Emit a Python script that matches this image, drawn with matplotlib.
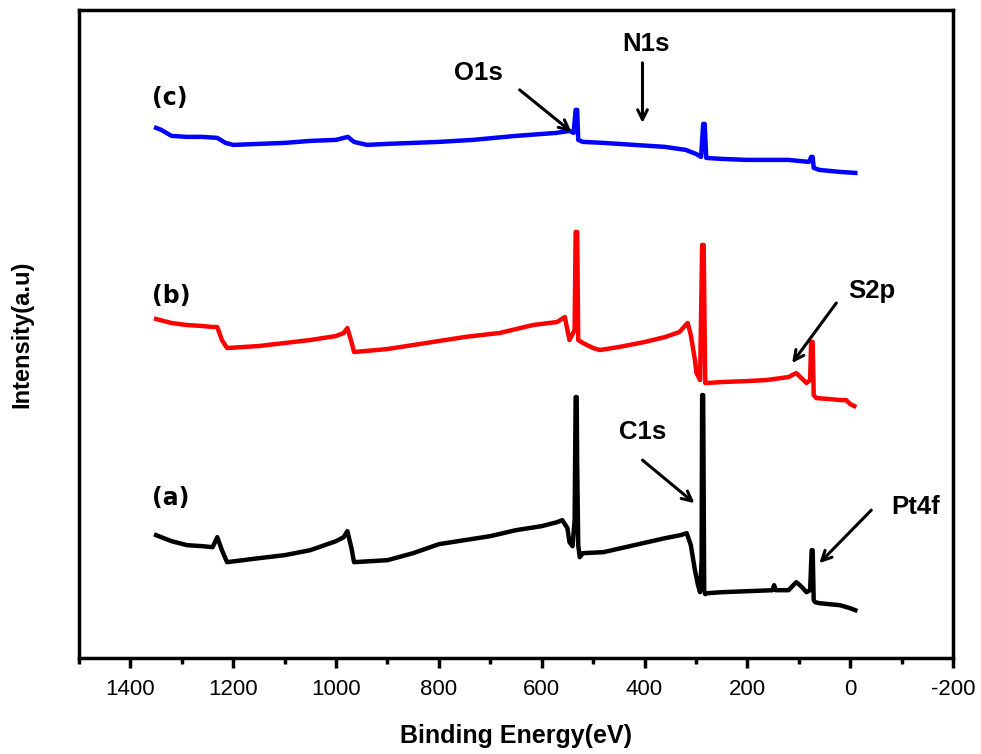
import numpy as np
import matplotlib.pyplot as plt

plt.rcParams["axes.unicode_minus"] = False

# XPS survey spectra (intensity in arbitrary units)
energy_a = [1350, 1320, 1290, 1260, 1240, 1231, 1222, 1212, 1150, 1100, 1050, 1000, 985, 978, 970, 965,
            900, 850, 800, 750, 700, 650, 600, 570, 560, 550, 546, 540, 536, 534, 532, 531, 529, 526, 520,
            480, 420, 360, 330, 318, 310, 302, 296, 292, 289, 288, 286, 284, 282, 278, 250, 200, 151, 148,
            145, 120, 105, 100, 92, 85, 78, 75, 73, 71, 68, 60, 40, 20, 0, -10]
intensity_a = [123, 117, 113, 112, 111, 121, 108, 96, 100, 103, 108, 117, 121, 127, 110, 96,
               98, 105, 114, 118, 122, 128, 132, 136, 138, 130, 116, 112, 138, 261, 261, 193, 113, 101, 105,
               106, 113, 120, 123, 125, 113, 88, 73, 66, 98, 263, 263, 68, 64, 65, 66, 67, 68, 73,
               68, 68, 76, 74, 70, 66, 68, 108, 108, 58, 56, 55, 54, 53, 50, 48]

energy_b = [1350, 1320, 1290, 1260, 1240, 1231, 1222, 1212, 1150, 1100, 1050, 1000, 985, 978, 970, 965,
            900, 850, 800, 750, 700, 682, 617, 570, 555, 550, 546, 536, 534, 531, 529, 520, 500, 487,
            450, 400, 360, 332, 320, 316, 310, 302, 299, 292, 288, 285, 282, 280, 250, 200, 163, 120,
            105, 95, 85, 78, 76, 73, 71, 66, 40, 20, 8, 0, -8]
intensity_b = [339, 335, 333, 332, 331, 331, 318, 310, 312, 315, 318, 322, 325, 330, 316, 306,
               309, 313, 317, 321, 324, 325, 333, 336, 341, 328, 318, 328, 426, 426, 318, 315, 310, 308,
               311, 316, 321, 326, 333, 335, 323, 298, 285, 278, 413, 413, 275, 275, 276, 277, 278, 281,
               285, 280, 275, 278, 316, 316, 263, 260, 259, 258, 258, 254, 252]

energy_c = [1350, 1340, 1320, 1290, 1260, 1231, 1215, 1200, 1150, 1100, 1050, 1000, 985, 977, 965, 940,
            900, 850, 800, 734, 650, 571, 546, 538, 534, 531, 529, 520, 480, 420, 360, 320, 300, 290,
            286, 283, 280, 250, 200, 150, 120, 100, 80, 76, 73, 71, 60, 40, 20, -10]
intensity_c = [530, 528, 522, 521, 521, 520, 515, 513, 514, 515, 517, 518, 520, 521, 516, 513,
               514, 515, 516, 518, 522, 525, 527, 525, 548, 548, 518, 516, 515, 513, 511, 508, 504, 501,
               534, 534, 500, 499, 498, 498, 498, 497, 496, 501, 501, 490, 488, 487, 486, 485]

curve_labels = ["(a)", "(b)", "(c)"]
label_y = [160, 362, 560]

# peak annotations: text, text position, arrow start, arrow end
peak_names = ["O1s", "N1s", "C1s", "S2p", "Pt4f"]
peak_text_xy = [(724, 585), (398, 614), (404, 226), (-41, 367), (-128, 151)]
arrow_from = [(643, 568), (404, 595), (404, 198), (27, 355), (-41, 148)]
arrow_to = [(542, 526), (404, 535), (303, 155), (113, 295), (60, 95)]

fig = plt.figure(figsize=(9.81, 7.54), dpi=100)
ax = fig.add_axes([0.0805, 0.127, 0.891, 0.86])

ax.plot(energy_a, intensity_a, color="black", lw=3.2)
ax.plot(energy_b, intensity_b, color="#ff0000", lw=3.2)
ax.plot(energy_c, intensity_c, color="#0000ff", lw=3.2)

for lab, y in zip(curve_labels, label_y):
    ax.text(1357, y, lab, fontsize=17, fontweight="bold", family="DejaVu Sans",
            ha="left", va="center")

for name, txy, a0, a1 in zip(peak_names, peak_text_xy, arrow_from, arrow_to):
    ax.text(txy[0], txy[1], name, fontsize=18.5, fontweight="bold", family="Liberation Sans",
            ha="center", va="center")
    ax.annotate("", xy=a1, xytext=a0,
                arrowprops=dict(arrowstyle="->,head_length=0.7,head_width=0.35",
                                color="black", lw=2.2, shrinkA=0, shrinkB=0))

ax.set_xlim(1500, -200)
ax.set_ylim(0, 648)
ax.set_xticks(np.arange(1400, -201, -200))
ax.set_xticks(np.arange(1500, -201, -100), minor=True)
ax.set_yticks([])
ax.tick_params(axis="x", which="major", direction="out", length=7, width=2.5,
               labelsize=16, pad=8)
ax.tick_params(axis="x", which="minor", direction="out", length=4, width=2.5)
for lab in ax.get_xticklabels():
    lab.set_family("Liberation Sans")
for sp in ax.spines.values():
    sp.set_linewidth(2.5)

ax.set_xlabel("Binding Energy(eV)", fontsize=18, fontweight="bold",
              family="Liberation Sans", labelpad=17)
ax.set_ylabel("Intensity(a.u)", fontsize=17, fontweight="bold",
              family="Liberation Sans")
ax.yaxis.set_label_coords(-0.052, 0.5)

fig.savefig("out.png", dpi=100)
